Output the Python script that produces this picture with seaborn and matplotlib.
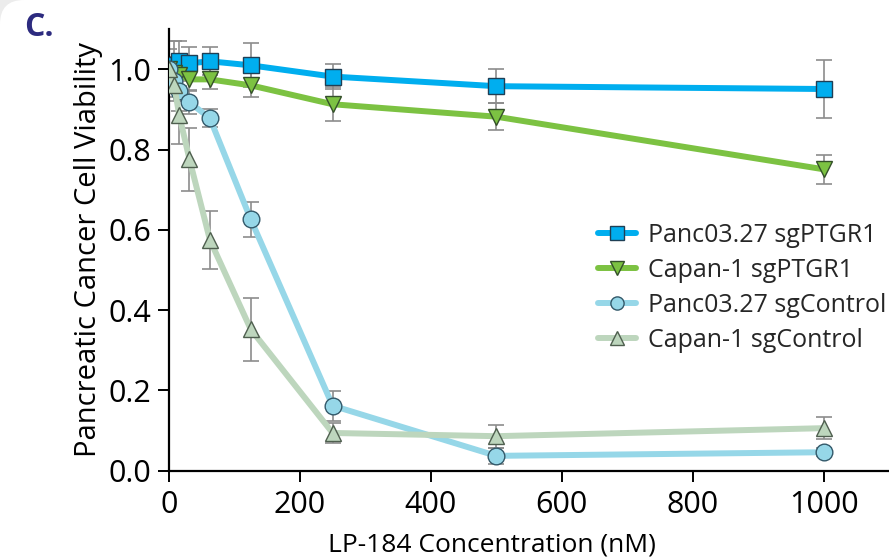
import matplotlib
matplotlib.use("Agg")
import matplotlib.pyplot as plt
from matplotlib.patches import FancyBboxPatch
from matplotlib.lines import Line2D
import seaborn as sns
import pandas as pd

# LP-184 dose series (nM)
doses = [0, 7.8, 15.6, 31.25, 62.5, 125, 250, 500, 1000]

panc_ptgr1 = [1.00, 1.01, 1.02, 1.015, 1.02, 1.01, 0.982, 0.958, 0.951]
panc_ptgr1_err = [0.05, 0.06, 0.05, 0.04, 0.035, 0.055, 0.032, 0.042, 0.073]

capan_ptgr1 = [1.00, 0.99, 0.985, 0.975, 0.975, 0.96, 0.913, 0.882, 0.751]
capan_ptgr1_err = [0.03, 0.03, 0.03, 0.03, 0.025, 0.03, 0.042, 0.033, 0.036]

panc_ctrl = [1.00, 0.97, 0.945, 0.918, 0.878, 0.626, 0.162, 0.037, 0.046]
panc_ctrl_err = [0.03, 0.04, 0.05, 0.03, 0.022, 0.044, 0.037, 0.02, 0.01]

capan_ctrl = [1.00, 0.962, 0.886, 0.776, 0.575, 0.352, 0.094, 0.086, 0.106]
capan_ctrl_err = [0.03, 0.04, 0.073, 0.078, 0.073, 0.078, 0.026, 0.029, 0.028]

labels = ["Panc03.27 sgPTGR1", "Capan-1 sgPTGR1",
          "Panc03.27 sgControl", "Capan-1 sgControl"]
x_ticks = [0, 200, 400, 600, 800, 1000]
y_ticks = [0.0, 0.2, 0.4, 0.6, 0.8, 1.0]

series = [
    (labels[0], panc_ptgr1, panc_ptgr1_err, "#00aeef", "s", "#1f3f55"),
    (labels[1], capan_ptgr1, capan_ptgr1_err, "#7cc242", "v", "#34502a"),
    (labels[2], panc_ctrl, panc_ctrl_err, "#96d7e8", "o", "#33596a"),
    (labels[3], capan_ctrl, capan_ctrl_err, "#bdd6bd", "^", "#4f5f4f"),
]

sns.set_theme(style="ticks")
plt.rcParams["font.family"] = ["Open Sans", "DejaVu Sans"]

fig = plt.figure(figsize=(8.89, 5.59), dpi=100)
fig.patch.set_facecolor("#ececec")
# white panel with a rounded top-left corner
panel = FancyBboxPatch((0, -60), 960, 619, boxstyle="round,pad=0,rounding_size=24",
                       transform=None, facecolor="white", edgecolor="none", zorder=-5)
fig.add_artist(panel)

ax = fig.add_axes([169 / 889, 1 - 470.7 / 559, 720 / 889, 441.5 / 559])
ax.set_zorder(2)
ax.set_facecolor("none")

handles = []
for name, vals, errs, color, marker, edge in series:
    ax.errorbar(doses, vals, yerr=errs, fmt="none", ecolor="#8c8c8c",
                elinewidth=1.2, capsize=5.5, capthick=1.2, zorder=1)
for name, vals, errs, color, marker, edge in series:
    df = pd.DataFrame({"dose": doses, "viability": vals})
    sns.lineplot(data=df, x="dose", y="viability", ax=ax, color=color,
                 linewidth=4.3, marker=marker, markersize=12,
                 markerfacecolor=color, markeredgecolor=edge,
                 markeredgewidth=1.0, zorder=3, legend=False)
    handles.append(Line2D([], [], color=color, linewidth=4.3, marker=marker,
                          markersize=9.5, markerfacecolor=color,
                          markeredgecolor=edge, markeredgewidth=1.0))

ax.set_xlim(0, 1100)
ax.set_ylim(0, 1.1)
ax.set_xticks(x_ticks)
ax.set_yticks(y_ticks)
ax.set_yticklabels([f"{v:.1f}" for v in y_ticks])
sns.despine(ax=ax)
for side in ("left", "bottom"):
    ax.spines[side].set_linewidth(1.6)
    ax.spines[side].set_color("black")
ax.tick_params(axis="both", direction="out", length=8, width=1.4,
               colors="black", labelsize=22)
ax.tick_params(axis="x", pad=6)
ax.tick_params(axis="y", pad=5)

ax.set_xlabel("LP-184 Concentration (nM)", fontsize=19, color="black")
ax.xaxis.set_label_coords(0.449, -0.14)
ax.set_ylabel("Pancreatic Cancer Cell Viability", fontsize=21, color="black",
              labelpad=4)

ax.legend(handles, labels, loc="center left", bbox_to_anchor=(0.596, 0.414),
          frameon=False, fontsize=18, handlelength=1.5, handletextpad=0.5,
          labelspacing=0.4, borderaxespad=0, borderpad=0)

fig.text(0.027, 0.935, "C.", fontsize=23, fontweight="bold",
         color="#2d2b7f", va="baseline", ha="left")

fig.savefig("out.png", dpi=100, facecolor=fig.get_facecolor())
